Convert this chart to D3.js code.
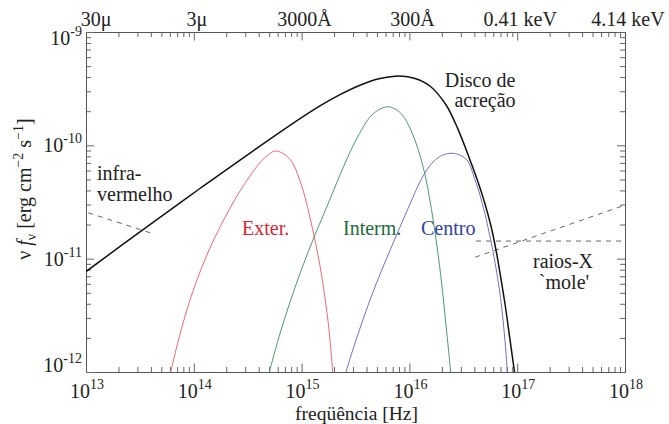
<!DOCTYPE html>
<html>
<head>
<meta charset="utf-8">
<script src="https://cdn.jsdelivr.net/npm/d3@7"></script>
<style>
  html, body { margin: 0; padding: 0; background: #fff; }
  svg { display: block; }
</style>
</head>
<body>
<svg id="chart" width="669" height="424"></svg>
<script>
const FONT = "'Liberation Serif', 'Times New Roman', Times, 'DejaVu Serif', serif";

// Frequency decades (log10 Hz) and flux decades (log10 erg cm^-2 s^-1)
const xDecades = [13, 14, 15, 16, 17, 18];
const yDecades = [-12, -11, -10, -9];
// Wavelength / energy equivalents shown on the top axis
const topLabels = ["30μ", "3μ", "3000Å", "300Å", "0.41 keV", "4.14 keV"];

// Accretion disc spectrum: [frequency Hz, νfν]
const disco = [
  [1.0e13, 7.70e-12], [3.92e13, 2.00e-11], [1.14e14, 4.16e-11], [3.32e14, 8.55e-11],
  [9.66e14, 1.72e-10], [1.48e15, 2.23e-10], [2.27e15, 2.80e-10], [3.48e15, 3.39e-10],
  [5.34e15, 3.88e-10], [8.18e15, 4.09e-10], [1.13e16, 3.89e-10], [1.55e16, 3.34e-10],
  [2.19e16, 2.27e-10], [2.82e16, 1.39e-10], [3.65e16, 7.43e-11], [4.33e16, 4.75e-11],
  [5.03e16, 3.04e-11], [5.71e16, 1.94e-11], [6.36e16, 1.19e-11], [7.00e16, 7.03e-12],
  [7.71e16, 3.98e-12], [8.48e16, 2.08e-12], [9.44e16, 1.00e-12], [9.85e16, 7.22e-13]
];
// Outer ring
const exter = [
  [5.64e13, 6.94e-13], [6.11e13, 1.00e-12], [7.45e13, 2.16e-12], [9.22e13, 4.32e-12],
  [1.14e14, 7.62e-12], [1.41e14, 1.24e-11], [1.75e14, 1.90e-11], [2.17e14, 2.80e-11],
  [2.68e14, 3.95e-11], [3.32e14, 5.36e-11], [3.94e14, 6.71e-11], [4.68e14, 7.97e-11],
  [5.66e14, 8.91e-11], [6.87e14, 8.38e-11], [8.15e14, 7.13e-11], [9.46e14, 5.15e-11],
  [1.076e15, 3.50e-11], [1.197e15, 2.29e-11], [1.331e15, 1.46e-11], [1.482e15, 8.61e-12],
  [1.649e15, 4.50e-12], [1.796e15, 2.35e-12], [1.943e15, 1.00e-12], [1.998e15, 6.94e-13]
];
// Intermediate ring
const interm = [
  [4.68e14, 8.00e-13], [5.015e14, 1.00e-12], [6.17e14, 2.04e-12], [7.81e14, 4.15e-12],
  [1.009e15, 8.27e-12], [1.331e15, 1.62e-11], [1.758e15, 3.04e-11], [2.27e15, 5.47e-11],
  [2.934e15, 9.47e-11], [3.633e15, 1.39e-10], [4.40e15, 1.82e-10], [5.34e15, 2.09e-10],
  [6.37e15, 2.19e-10], [7.51e15, 2.07e-10], [8.72e15, 1.82e-10], [1.013e16, 1.42e-10],
  [1.151e16, 1.05e-10], [1.281e16, 7.58e-11], [1.411e16, 5.26e-11], [1.537e16, 3.43e-11],
  [1.673e16, 2.11e-11], [1.823e16, 1.19e-11], [1.985e16, 6.22e-12], [2.185e16, 2.60e-12],
  [2.416e16, 1.00e-12], [2.484e16, 7.68e-13]
];
// Central ring
const centro = [
  [2.42e15, 7.68e-13], [2.582e15, 1.00e-12], [3.337e15, 2.16e-12], [4.31e15, 4.32e-12],
  [5.69e15, 8.44e-12], [7.67e15, 1.65e-11], [1.013e16, 3.04e-11], [1.309e16, 5.15e-11],
  [1.655e16, 7.13e-11], [2.05e16, 8.22e-11], [2.484e16, 8.51e-11], [3.01e16, 8.13e-11],
  [3.421e16, 7.42e-11], [3.728e16, 6.31e-11], [4.018e16, 5.10e-11], [4.375e16, 4.04e-11],
  [4.695e16, 3.16e-11], [5.08e16, 2.38e-11], [5.475e16, 1.72e-11], [5.94e16, 1.19e-11],
  [6.36e16, 8.27e-12], [6.78e16, 5.62e-12], [7.195e16, 3.67e-12], [7.54e16, 2.35e-12],
  [7.84e16, 1.56e-12], [8.09e16, 1.00e-12], [8.25e16, 7.68e-13]
];
// Infrared and soft X-ray power-law segments (dashed)
const infravermelho = [[1.05e13, 2.54e-11], [4.27e13, 1.65e-11]];
const raiosXPlano = [[4.15e16, 1.43e-11], [9.5e17, 1.43e-11]];
const raiosXInclinado = [[4.07e16, 1.03e-11], [1.0e18, 2.97e-11]];

const margin = { left: 86, top: 32, right: 44, bottom: 52 };
const W = 669, H = 424;
const pw = W - margin.left - margin.right;   // 539
const ph = H - margin.top - margin.bottom;   // 340

const svg = d3.select("#chart").attr("font-family", FONT);
const g = svg.append("g").attr("transform", `translate(${margin.left},${margin.top})`);

const x = d3.scaleLog().domain([1e13, 1e18]).range([0, pw]);
const y = d3.scaleLog().domain([1e-12, 1e-9]).range([ph, 0]);

svg.append("defs").append("clipPath").attr("id", "plotClip")
  .append("rect").attr("width", pw).attr("height", ph);

// Axes: minor ticks and major (decade) ticks drawn inward on all four sides
const isDecade = d => Math.abs(Math.log10(d) - Math.round(Math.log10(d))) < 1e-6;
const xMinor = x.ticks().filter(d => !isDecade(d));
const yMinor = y.ticks().filter(d => !isDecade(d));
const xMajor = xDecades.map(e => Math.pow(10, e));
const yMajor = yDecades.map(e => Math.pow(10, e));

function styleAxis(sel) {
  sel.selectAll("text").remove();
  sel.select(".domain").attr("stroke", "#555").attr("stroke-width", 1);
  sel.selectAll(".tick line").attr("stroke", "#666").attr("stroke-width", 1);
}

const axisSpecs = [
  { gen: d3.axisBottom, scale: x, t: `translate(0,${ph})` },
  { gen: d3.axisTop, scale: x, t: `translate(0,0)` },
  { gen: d3.axisLeft, scale: y, t: `translate(0,0)` },
  { gen: d3.axisRight, scale: y, t: `translate(${pw},0)` }
];
axisSpecs.forEach(s => {
  const isX = s.scale === x;
  g.append("g").attr("transform", s.t)
    .call(s.gen(s.scale).tickValues(isX ? xMinor : yMinor).tickSize(-5).tickSizeOuter(0).tickFormat(""))
    .call(styleAxis);
  g.append("g").attr("transform", s.t)
    .call(s.gen(s.scale).tickValues(isX ? xMajor : yMajor).tickSize(isX ? -8.5 : -8).tickSizeOuter(0).tickFormat(""))
    .call(styleAxis);
});

// Bottom decade labels 10^n
const bl = g.append("g").selectAll("text").data(xDecades).join("text")
  .attr("x", d => x(Math.pow(10, d)) + 1)
  .attr("y", ph + 26)
  .attr("text-anchor", "middle")
  .attr("font-size", 20)
  .attr("fill", "#222");
bl.append("tspan").text("10");
bl.append("tspan").attr("dy", -9).attr("font-size", 14).text(d => d);

// Left decade labels 10^-n, kept inside the vertical extent of the frame
const ll = g.append("g").selectAll("text").data(yDecades).join("text")
  .attr("x", -4)
  .attr("y", d => Math.min(ph, Math.max(13, y(Math.pow(10, d)) + 7)))
  .attr("text-anchor", "end")
  .attr("font-size", 20)
  .attr("fill", "#222");
ll.append("tspan").text("10");
ll.append("tspan").attr("dy", -9).attr("font-size", 14).text(d => "-" + Math.abs(d));

// Top wavelength / energy labels
g.append("g").selectAll("text").data(topLabels).join("text")
  .attr("x", (d, i) => x(Math.pow(10, xDecades[i])))
  .attr("dx", (d, i) => i === 0 ? 10 : 3)
  .attr("y", -6)
  .attr("text-anchor", "middle")
  .attr("font-size", 20)
  .attr("fill", "#222")
  .text(d => d);

// Axis titles
svg.append("text")
  .attr("x", margin.left + pw / 2 + 1)
  .attr("y", 420)
  .attr("text-anchor", "middle")
  .attr("font-size", 19.5)
  .attr("fill", "#222")
  .text("freqüência [Hz]");

const yt = svg.append("text")
  .attr("transform", `translate(31,${margin.top + 157}) rotate(-90)`)
  .attr("text-anchor", "middle")
  .attr("font-size", 20)
  .attr("fill", "#222");
yt.append("tspan").text("ν ");
yt.append("tspan").attr("font-style", "italic").text("f");
yt.append("tspan").attr("dy", 5).attr("font-size", 14).text("ν");
yt.append("tspan").attr("dy", -5).text(" [erg cm");
yt.append("tspan").attr("dy", -8).attr("font-size", 14).text("−2");
yt.append("tspan").attr("dy", 8).text(" s");
yt.append("tspan").attr("dy", -8).attr("font-size", 14).text("−1");
yt.append("tspan").attr("dy", 8).text("]");

// Curves
const plot = g.append("g").attr("clip-path", "url(#plotClip)");
const line = d3.line()
  .x(d => x(d[0]))
  .y(d => y(d[1]))
  .curve(d3.curveCatmullRom.alpha(0.5));
const straight = d3.line().x(d => x(d[0])).y(d => y(d[1]));

plot.selectAll("path.dash").data([infravermelho, raiosXPlano, raiosXInclinado]).join("path")
  .attr("class", "dash")
  .attr("d", straight)
  .attr("fill", "none")
  .attr("stroke", "#666")
  .attr("stroke-width", 1)
  .attr("stroke-dasharray", "5,5");

const rings = [
  { data: exter, color: "#ee6a74" },
  { data: interm, color: "#4f9a6c" },
  { data: centro, color: "#7272c8" }
];
plot.selectAll("path.ring").data(rings).join("path")
  .attr("class", "ring")
  .attr("d", d => line(d.data))
  .attr("fill", "none")
  .attr("stroke", d => d.color)
  .attr("stroke-width", 1);

plot.append("path")
  .attr("d", line(disco))
  .attr("fill", "none")
  .attr("stroke", "#111")
  .attr("stroke-width", 1.5);

// Annotations
const notes = [
  { text: "infra-", x: 97, y: 180, anchor: "start", color: "#222" },
  { text: "vermelho", x: 97, y: 201, anchor: "start", color: "#222" },
  { text: "Disco de", x: 480, y: 87, anchor: "middle", color: "#222" },
  { text: "acreção", x: 485, y: 107, anchor: "middle", color: "#222" },
  { text: "Exter.", x: 242, y: 235, anchor: "start", color: "#d8253a" },
  { text: "Interm.", x: 343, y: 235, anchor: "start", color: "#1d6b3a" },
  { text: "Centro", x: 421, y: 235, anchor: "start", color: "#2f43a3" },
  { text: "raios-X", x: 563, y: 268, anchor: "middle", color: "#222" },
  { text: "`mole'", x: 564, y: 289, anchor: "middle", color: "#222" }
];
svg.append("g").selectAll("text").data(notes).join("text")
  .attr("x", d => d.x)
  .attr("y", d => d.y)
  .attr("text-anchor", d => d.anchor)
  .attr("font-size", 20)
  .attr("fill", d => d.color)
  .text(d => d.text);
</script>
</body>
</html>
